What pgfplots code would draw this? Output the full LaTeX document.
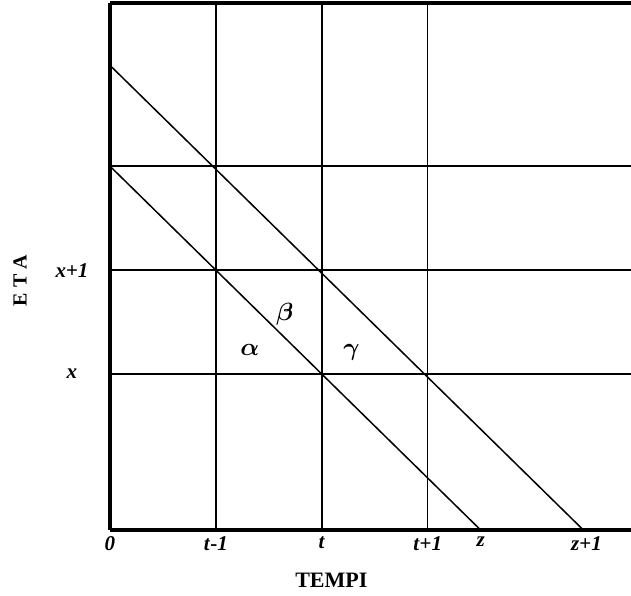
\documentclass[border=0pt]{standalone}
\usepackage{pgfplots}
\pgfplotsset{compat=1.18}
\usepackage{fontspec}
\setmainfont{Liberation Serif}
\begin{document}
\begin{tikzpicture}
\useasboundingbox (-110pt,-66pt) rectangle (521pt,3pt+527pt);
\begin{axis}[
  at={(0,0)}, anchor=south west,
  scale only axis, width=521pt, height=527pt,
  xmin=0, xmax=4.92, ymin=0, ymax=5.07,
  axis x line*=bottom, axis y line*=left,
  axis line style={line width=4pt,-},
  xtick={1,2,3}, xticklabels={\textit{t}-\textit{1},\textit{t},\textit{t}+\textit{1}},
  extra x ticks={0,3.5,4.5},
  extra x tick labels={\textit{0},\textit{z},\textit{z}+\textit{1}},
  extra x tick style={grid=none},
  ytick={1.5,2.5,3.5}, yticklabels={\textit{x},\textit{x}+\textit{1},},
  xmajorgrids, ymajorgrids,
  grid style={black, line width=1.6pt},
  major tick length=0pt,
  tick label style={font=\fontsize{21}{21}\selectfont\bfseries},
  xticklabel style={yshift=-3pt},
  yticklabel style={anchor=center, xshift=-38pt},
  clip=false,
]
\addplot[black, line width=1.5pt] coordinates {(0,3.5) (3.5,0)};
\addplot[black, line width=1.5pt] coordinates {(0,4.47) (4.47,0)};
\draw[line width=4pt] (rel axis cs:0,1) -- (rel axis cs:1,1);
\node[font=\fontsize{27}{27}\selectfont\boldmath] at (axis cs:1.32,1.73) {$\alpha$};
\node[font=\fontsize{27}{27}\selectfont\boldmath] at (axis cs:1.65,2.08) {$\beta$};
\node[font=\fontsize{27}{27}\selectfont\boldmath] at (axis cs:2.28,1.71) {$\gamma$};
\node[font=\fontsize{22}{22}\selectfont\bfseries] at (axis cs:2.09,-0.48) {TEMPI};
\node[font=\fontsize{20}{20}\selectfont\bfseries, rotate=90] at (axis cs:-0.85,2.4) {E T A};
\end{axis}
\end{tikzpicture}
\end{document}
